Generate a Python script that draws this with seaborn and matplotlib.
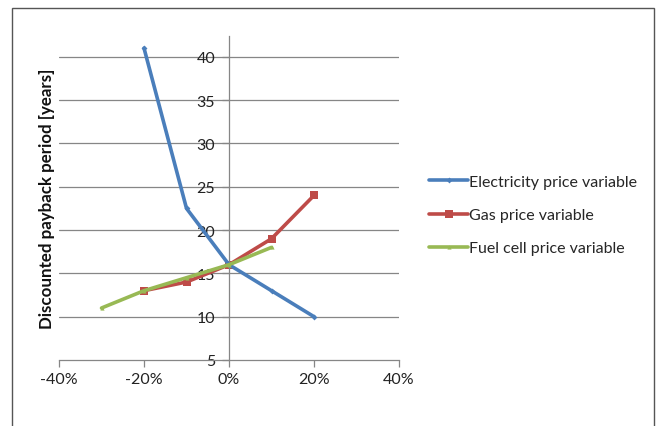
import pandas as pd
import matplotlib
matplotlib.use('Agg')
import matplotlib.pyplot as plt
import seaborn as sns
from matplotlib.patches import Rectangle

# Dados (variação de preço em %, período de retorno em anos)
elec_x = [-20, -10, 0, 10, 20]
elec_y = [41, 22.5, 16, 13, 10]
gas_x = [-20, -10, 0, 10, 20]
gas_y = [13, 14, 16, 19, 24]
fuel_x = [-30, -20, -10, 0, 10]
fuel_y = [11, 13, 14.5, 16, 18]
x_ticks = [-40, -20, 0, 20, 40]
y_ticks = [5, 10, 15, 20, 25, 30, 35, 40]

sns.set_style('white')
plt.rcParams['font.family'] = ['Lato', 'DejaVu Sans']

fig = plt.figure(figsize=(6.63, 4.27), dpi=100)
ax = fig.add_axes([59/663, 1 - 361/427, 340/663, 324/427])

grey = '#868686'
for y in y_ticks[1:]:
    ax.axhline(y, color=grey, lw=0.9, zorder=0)

sns.lineplot(x=elec_x, y=elec_y, color='#4A7EBB', lw=2.6, marker='D', markersize=3,
             markeredgewidth=0, label='Electricity price variable', ax=ax, zorder=3)
sns.lineplot(x=gas_x, y=gas_y, color='#BE4B48', lw=2.6, marker='s', markersize=6,
             markeredgewidth=0, label='Gas price variable', ax=ax, zorder=2)
sns.lineplot(x=fuel_x, y=fuel_y, color='#98B954', lw=2.6, marker='^', markersize=3,
             markeredgewidth=0, label='Fuel cell price variable', ax=ax, zorder=4)

ax.set_xlim(-40, 40)
ax.set_ylim(5, 42.4)
ax.set_xticks(x_ticks)
ax.set_xticklabels([f'{v}%' for v in x_ticks])
ax.set_yticks(y_ticks)

ax.spines['left'].set_position(('data', 0))
ax.spines['right'].set_visible(False)
ax.spines['top'].set_visible(False)
for s in ['left', 'bottom']:
    ax.spines[s].set_color(grey)
    ax.spines[s].set_linewidth(0.9)

ax.tick_params(axis='both', which='both', direction='out', length=5, width=0.9,
               color=grey, labelsize=11.5, labelcolor='#222222')
ax.tick_params(axis='y', pad=5, left=True)
ax.tick_params(axis='x', pad=4, bottom=True)

ax.set_xlabel('')
ax.set_ylabel('')
fig.text(47/663, 1 - 199/427, 'Discounted payback period [years]', rotation=90,
         ha='center', va='center', fontsize=12.2, fontweight='bold', color='#111111')

ax.legend(loc='center left', bbox_to_anchor=(429/663, 1 - 216/427),
          bbox_transform=fig.transFigure, frameon=False, fontsize=11.5,
          handlelength=2.45, handletextpad=0.05, labelspacing=1.2, borderaxespad=0,
          borderpad=0)

# Moldura da figura
fig.patches.append(Rectangle((12/663, -0.05), 642/663, 1.05 - 9/427,
                             transform=fig.transFigure, fill=False,
                             edgecolor='#555555', lw=1))

plt.savefig('out.png', dpi=100)
plt.close()
